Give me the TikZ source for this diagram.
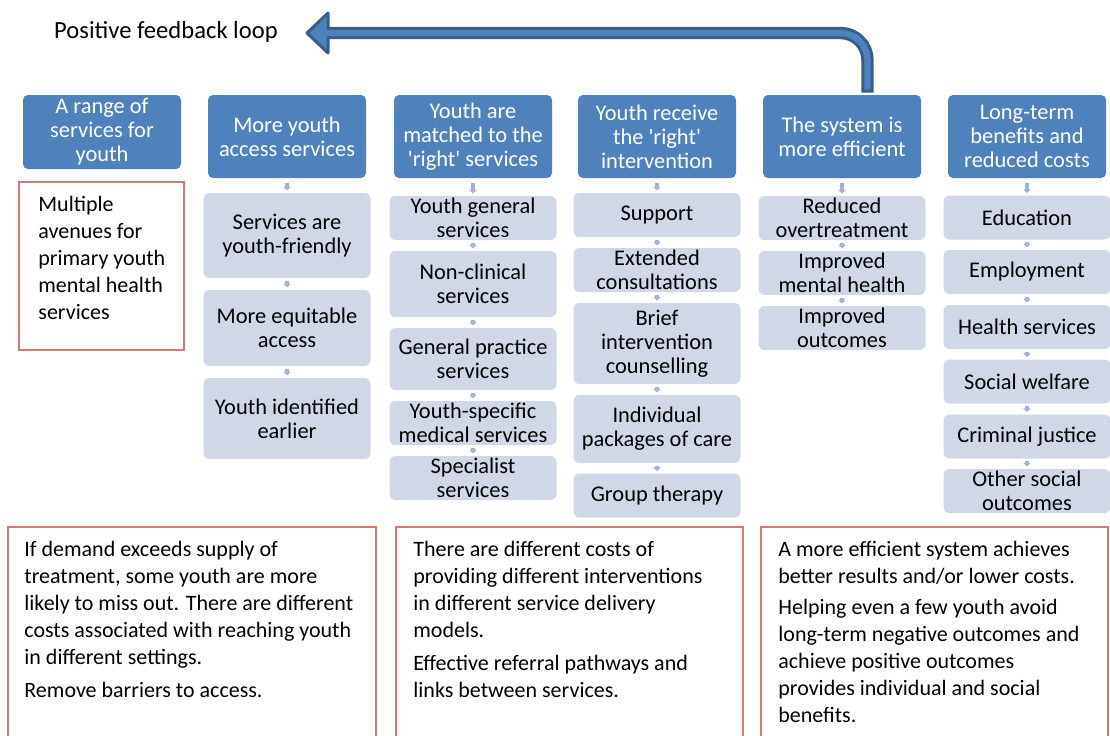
\documentclass[tikz,border=0pt]{standalone}
\usepackage{fontspec}
\setmainfont{Carlito}
\usetikzlibrary{arrows.meta}
\definecolor{headblue}{RGB}{79,129,189}
\definecolor{subblue}{RGB}{208,216,232}
\definecolor{tipblue}{RGB}{160,178,212}
\definecolor{loopdark}{RGB}{56,93,138}
\definecolor{noteline}{RGB}{212,120,118}
\newcommand{\boxfont}{\fontsize{11.2}{12}\selectfont}
\newcommand{\notefont}{\fontsize{11}{13.5}\selectfont}

\begin{document}
\begin{tikzpicture}[x=0.5pt, y=-0.5pt,
  head/.style={fill=headblue, text=white, rounded corners=2.5pt, align=center, inner sep=0pt, font=\boxfont, minimum width=79pt, minimum height=41.5pt},
  sub/.style={fill=subblue, rounded corners=3pt, align=center, inner sep=0pt, font=\boxfont, minimum width=83.5pt, minimum height=22pt},
  note/.style={draw=noteline, line width=0.6pt},
  notetext/.style={anchor=north west, align=left, inner sep=0pt, font=\notefont},
  tiny/.style={draw=tipblue, line width=1.8pt, -{Triangle[width=3.8pt,length=1.8pt]}, shorten <=1.1pt, shorten >=1.1pt}]
\useasboundingbox (0,0) rectangle (1110,735);
\fill[white] (0,0) rectangle (1110,735);
\clip (0,0) rectangle (1110,735);

\node[font=\fontsize{12.3}{14}\selectfont, inner sep=0pt] (loop) at (166,32) {Positive feedback loop};

\node[head, minimum height=37pt] (h1) at (102,132) {A range of\\services for\\youth};
\node[head] (h2) at (287,136.5) {More youth\\access services};
\node[head] (h3) at (473,136.5) {Youth are\\matched to the\\\textquotesingle right\textquotesingle{} services};
\node[head] (h4) at (657,136.5) {Youth receive\\the \textquotesingle right\textquotesingle\\intervention};
\node[head] (h5) at (842,136.5) {The system is\\more efficient};
\node[head] (h6) at (1027,136.5) {Long-term\\benefits and\\reduced costs};

\node[note, minimum width=82.5pt, minimum height=84pt] (r1) at (101.5,266) {};
\node[notetext] (r1t) at (38,196) {Multiple\\avenues for\\primary youth\\mental health\\services};

\node[sub, minimum height=42.5pt] (s21) at (287,235.5) {Services are\\youth-friendly};
\node[sub, minimum height=38pt] (s22) at (287,328) {More equitable\\access};
\node[sub, minimum height=40.5pt] (s23) at (287,418.5) {Youth identified\\earlier};

\node[sub] (s31) at (473,218) {Youth general\\services};
\node[sub, minimum height=33pt] (s32) at (473,284) {Non-clinical\\services};
\node[sub, minimum height=31pt] (s33) at (473,359) {General practice\\services};
\node[sub] (s34) at (473,423) {Youth-specific\\medical services};
\node[sub] (s35) at (473,478) {Specialist\\services};

\node[sub] (s41) at (657,215) {Support};
\node[sub] (s42) at (657,270) {Extended\\consultations};
\node[sub, minimum height=40.5pt] (s43) at (657,343.5) {Brief\\intervention\\counselling};
\node[sub, minimum height=34pt] (s44) at (657,429) {Individual\\packages of care};
\node[sub] (s45) at (657,495.5) {Group therapy};

\node[sub] (s51) at (842,218) {Reduced\\overtreatment};
\node[sub] (s52) at (842,273) {Improved\\mental health};
\node[sub] (s53) at (842,328) {Improved\\outcomes};

\node[sub] (s61) at (1027,217.5) {Education};
\node[sub] (s62) at (1027,272) {Employment};
\node[sub] (s63) at (1027,327) {Health services};
\node[sub] (s64) at (1027,381.5) {Social welfare};
\node[sub] (s65) at (1027,436.5) {Criminal justice};
\node[sub] (s66) at (1027,491) {Other social\\outcomes};

\draw[tiny, shorten <=2.5pt] (h2) -- (s21);
\draw[tiny] (s21) -- (s22);
\draw[tiny] (s22) -- (s23);
\draw[tiny, shorten <=2.5pt] (h3) -- (s31);
\draw[tiny] (s31) -- (s32);
\draw[tiny] (s32) -- (s33);
\draw[tiny] (s33) -- (s34);
\draw[tiny] (s34) -- (s35);
\draw[tiny, shorten <=2.5pt] (h4) -- (s41);
\draw[tiny] (s41) -- (s42);
\draw[tiny] (s42) -- (s43);
\draw[tiny] (s43) -- (s44);
\draw[tiny] (s44) -- (s45);
\draw[tiny, shorten <=2.5pt] (h5) -- (s51);
\draw[tiny] (s51) -- (s52);
\draw[tiny] (s52) -- (s53);
\draw[tiny, shorten <=2.5pt] (h6) -- (s61);
\draw[tiny] (s61) -- (s62);
\draw[tiny] (s62) -- (s63);
\draw[tiny] (s63) -- (s64);
\draw[tiny] (s64) -- (s65);
\draw[tiny] (s65) -- (s66);

\coordinate (loopfoot) at ([xshift=12.75pt, yshift=1pt]h5.north);
\coordinate (looptip) at (307,33);
\draw[loopdark, fill=headblue, line width=1.5pt, line join=round] (looptip) -- ++(21,-20) -- ++(0,40) -- cycle;
\draw[loopdark, line width=6.2pt, rounded corners=13.5pt] (loopfoot) |- ([xshift=10.5pt]looptip);
\draw[headblue, line width=3.2pt, rounded corners=13.5pt] ([yshift=1.5pt]loopfoot) |- ([xshift=5pt]looptip);

\node[note, minimum width=184pt, minimum height=116.5pt] (b1) at (192,643.5) {};
\node[note, minimum width=173.5pt, minimum height=116.5pt] (b2) at (569.5,643.5) {};
\node[note, minimum width=173.5pt, minimum height=116.5pt] (b3) at (934.5,643.5) {};
\node[notetext] (b1t) at (24,541) {If demand exceeds supply of\\treatment, some youth are more\\likely to miss out. There are different\\costs associated with reaching youth\\in different settings.\\[3pt]Remove barriers to access.};
\node[notetext] (b2t) at (413,541) {There are different costs of\\providing different interventions\\in different service delivery\\models.\\[3pt]Effective referral pathways and\\links between services.};
\node[notetext] (b3t) at (778,541) {A more efficient system achieves\\better results and/or lower costs.\\[2pt]Helping even a few youth avoid\\long-term negative outcomes and\\achieve positive outcomes\\provides individual and social\\benefits.};
\end{tikzpicture}
\end{document}
